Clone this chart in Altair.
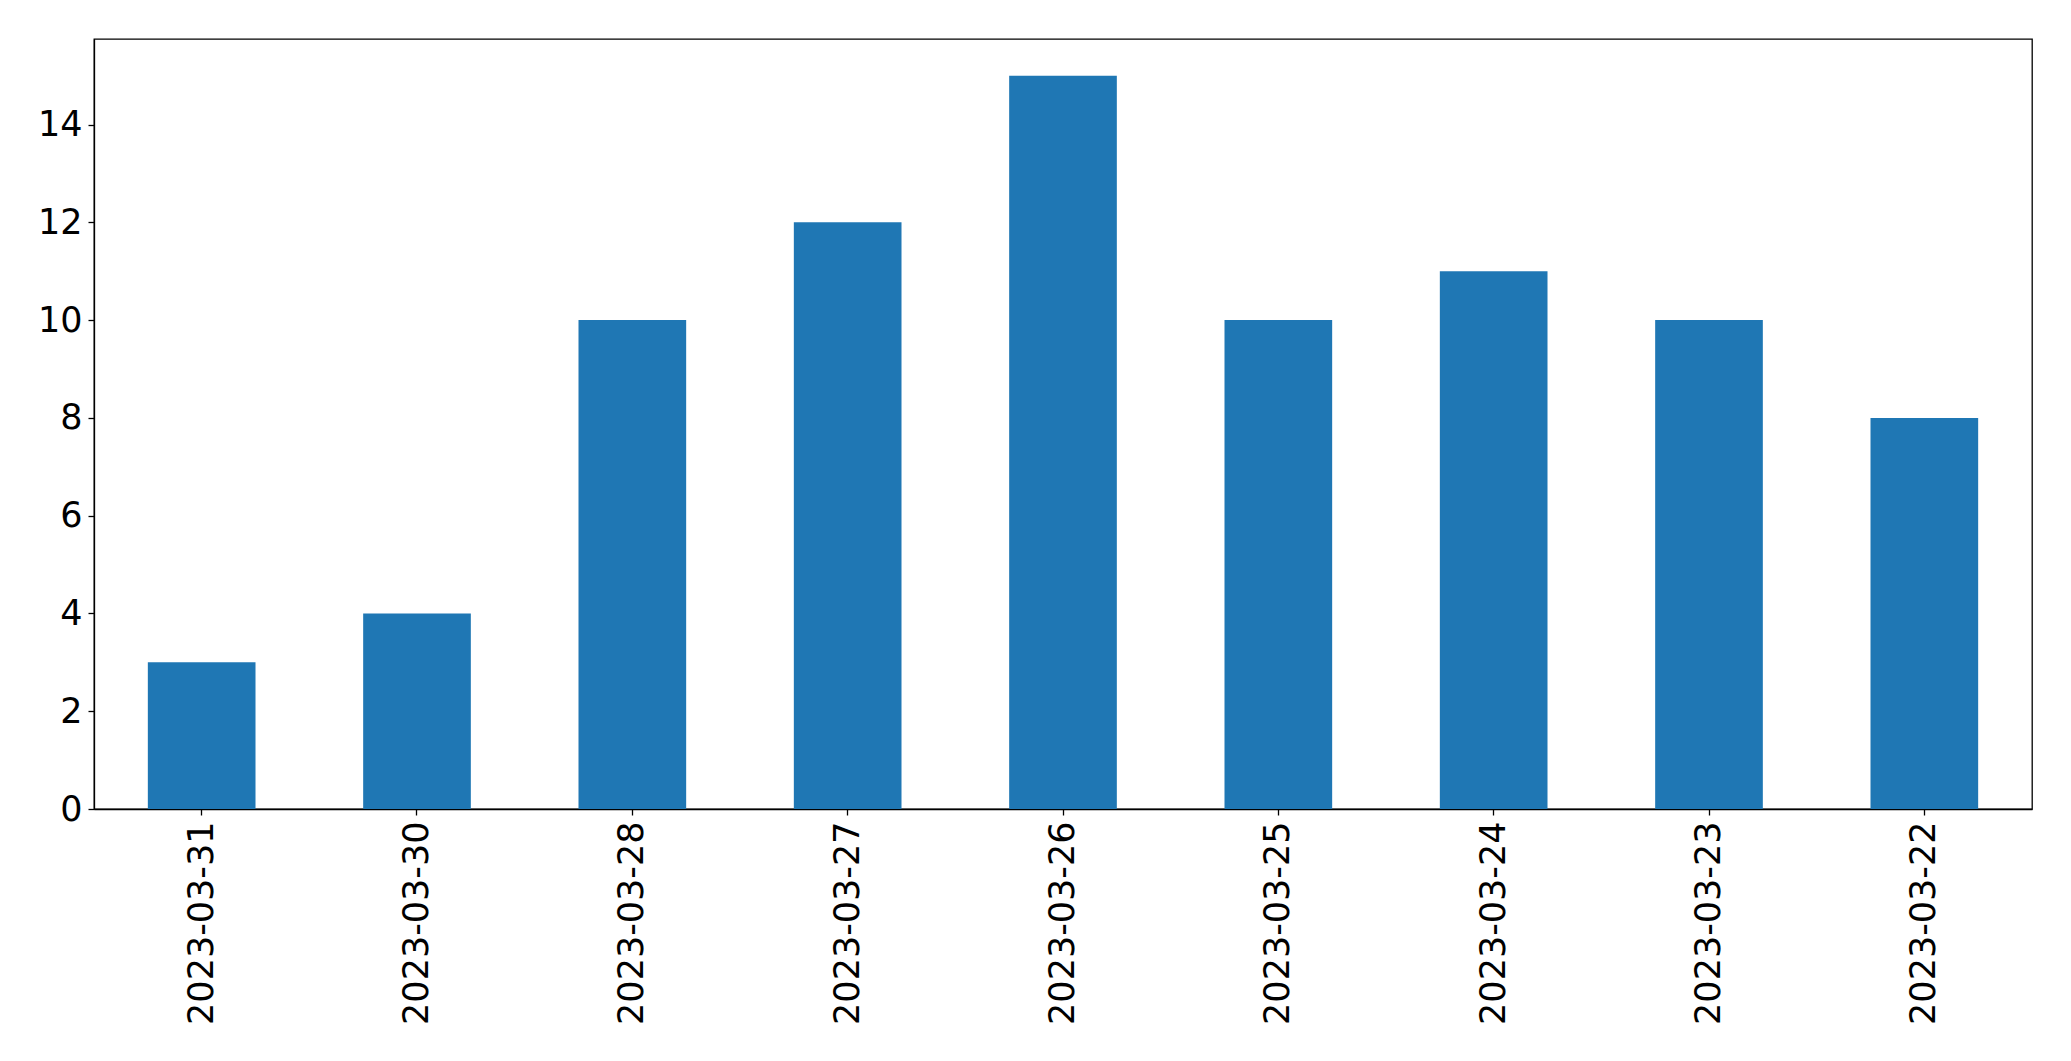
import altair as alt
import pandas as pd

dates = ["2023-03-31", "2023-03-30", "2023-03-28", "2023-03-27", "2023-03-26",
         "2023-03-25", "2023-03-24", "2023-03-23", "2023-03-22"]
counts = [3, 4, 10, 12, 15, 10, 11, 10, 8]
y_ticks = [0, 2, 4, 6, 8, 10, 12, 14]

df = pd.DataFrame({"date": dates, "count": counts})

FONT = "DejaVu Sans"

chart = alt.Chart(df).mark_bar(color="#1f77b4").encode(
    x=alt.X("date:N", sort=dates, title=None,
            scale=alt.Scale(paddingInner=0.5, paddingOuter=0.25),
            axis=alt.Axis(labelAngle=-90, labelAlign="right", labelBaseline="middle",
                          labelFontSize=35, labelFont=FONT, labelColor="black",
                          labelLimit=1000,
                          tickColor="black", tickSize=6, tickWidth=1.3,
                          domainColor="black", domainWidth=1.3, labelPadding=6)),
    y=alt.Y("count:Q", title=None,
            scale=alt.Scale(domain=[0, 15.75], nice=False, zero=True),
            axis=alt.Axis(values=y_ticks, grid=False, labelFontSize=35, labelFont=FONT,
                          labelColor="black", tickColor="black", tickSize=6, tickWidth=1.3,
                          domainColor="black", domainWidth=1.3, labelPadding=6,
                          labelBaseline="middle")),
).properties(
    width=1938,
    height=770,
    autosize=alt.AutoSizeParams(type="none"),
    padding={"left": 86, "top": 31, "right": 20, "bottom": 220},
).configure_view(stroke="black", strokeWidth=1.3)

chart.save("out.html", embed_options={"renderer": "svg", "actions": False})
